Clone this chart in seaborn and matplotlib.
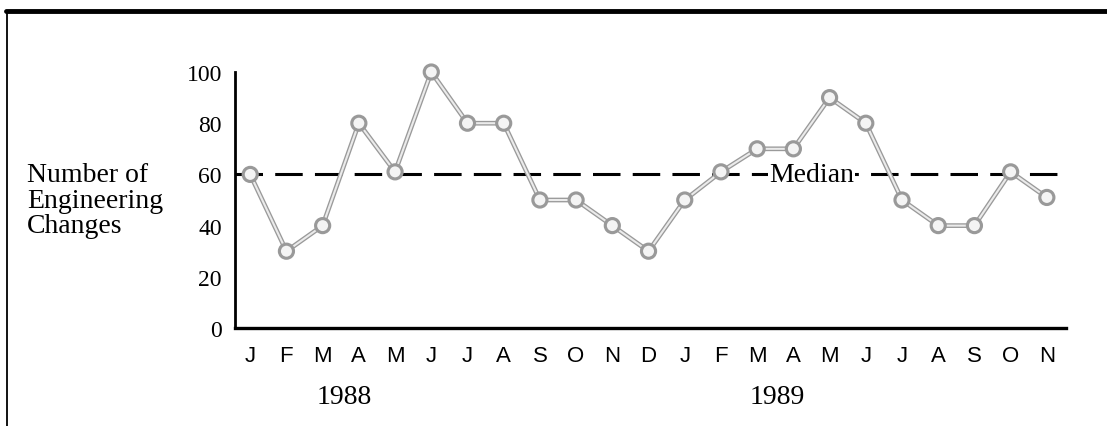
import matplotlib
matplotlib.use("Agg")
import matplotlib.pyplot as plt
import matplotlib.patheffects as pe
from matplotlib.lines import Line2D
import seaborn as sns
import pandas as pd

months = ["J", "F", "M", "A", "M", "J", "J", "A", "S", "O", "N", "D",
          "J", "F", "M", "A", "M", "J", "J", "A", "S", "O", "N"]
changes = [60, 30, 40, 80, 61, 100, 80, 80, 50, 50, 40, 30,
           50, 61, 70, 70, 90, 80, 50, 40, 40, 61, 51]
median_value = 60
years = ["1988", "1989"]
year_positions = [2.61, 14.56]
y_ticks = [0, 20, 40, 60, 80, 100]

df = pd.DataFrame({"idx": range(len(changes)), "changes": changes})

sns.set_theme(style="white")
plt.rcParams["font.family"] = ["Liberation Serif", "DejaVu Serif"]
plt.rcParams["text.color"] = "black"
plt.rcParams["xtick.color"] = "black"
plt.rcParams["ytick.color"] = "black"

fig = plt.figure(figsize=(11.07, 4.27), dpi=100)
ax = fig.add_axes([0.2123, 0.2295, 0.7507, 0.5995])

# median reference line
ax.axhline(median_value, color="black", lw=2.2, dashes=(9, 4), zorder=1)
ax.text(15.5, median_value, "Median", ha="center", va="center", fontsize=20,
        bbox=dict(facecolor="white", edgecolor="none", pad=0.5), zorder=2)

sns.lineplot(data=df, x="idx", y="changes", ax=ax, color="#ebebeb", lw=1.5,
             marker="o", markersize=9, markerfacecolor="#f4f4f4",
             markeredgecolor="#999999", markeredgewidth=1.1, zorder=3,
             clip_on=False,
             path_effects=[pe.Stroke(linewidth=3.4, foreground="#9a9a9a"), pe.Normal()])

ax.set_xlim(-0.42, 22.53)
ax.set_ylim(0, 100)
ax.set_xticks(range(len(months)))
ax.set_xticklabels(months, family="Liberation Sans", fontsize=16)
ax.set_yticks(y_ticks)
ax.set_yticklabels([str(v) for v in y_ticks], fontsize=17)
ax.tick_params(axis="y", length=0, pad=9.5, labelcolor="black")
ax.tick_params(axis="x", length=0, pad=12, labelcolor="black")
ax.set_xlabel("")
ax.set_ylabel("")
for side in ["top", "right"]:
    ax.spines[side].set_visible(False)
ax.spines["left"].set_linewidth(2)
ax.spines["bottom"].set_linewidth(2.4)
ax.spines["left"].set_color("black")
ax.spines["bottom"].set_color("black")

for yr, pos in zip(years, year_positions):
    ax.text(pos, -0.266, yr, transform=ax.get_xaxis_transform(), ha="center",
            va="center", fontsize=20)

fig.text(27 / 1107, 1 - 201 / 427, "Number of\nEngineering\nChanges",
         ha="left", va="center", fontsize=20, linespacing=1.02)

# page frame
fig.add_artist(Line2D([6 / 1107, 1.0], [1 - 12 / 427] * 2, color="black", lw=3.5))
fig.add_artist(Line2D([7 / 1107] * 2, [1 - 12 / 427, 0], color="black", lw=1.3))

fig.savefig("out.png", dpi=100, facecolor="white")
